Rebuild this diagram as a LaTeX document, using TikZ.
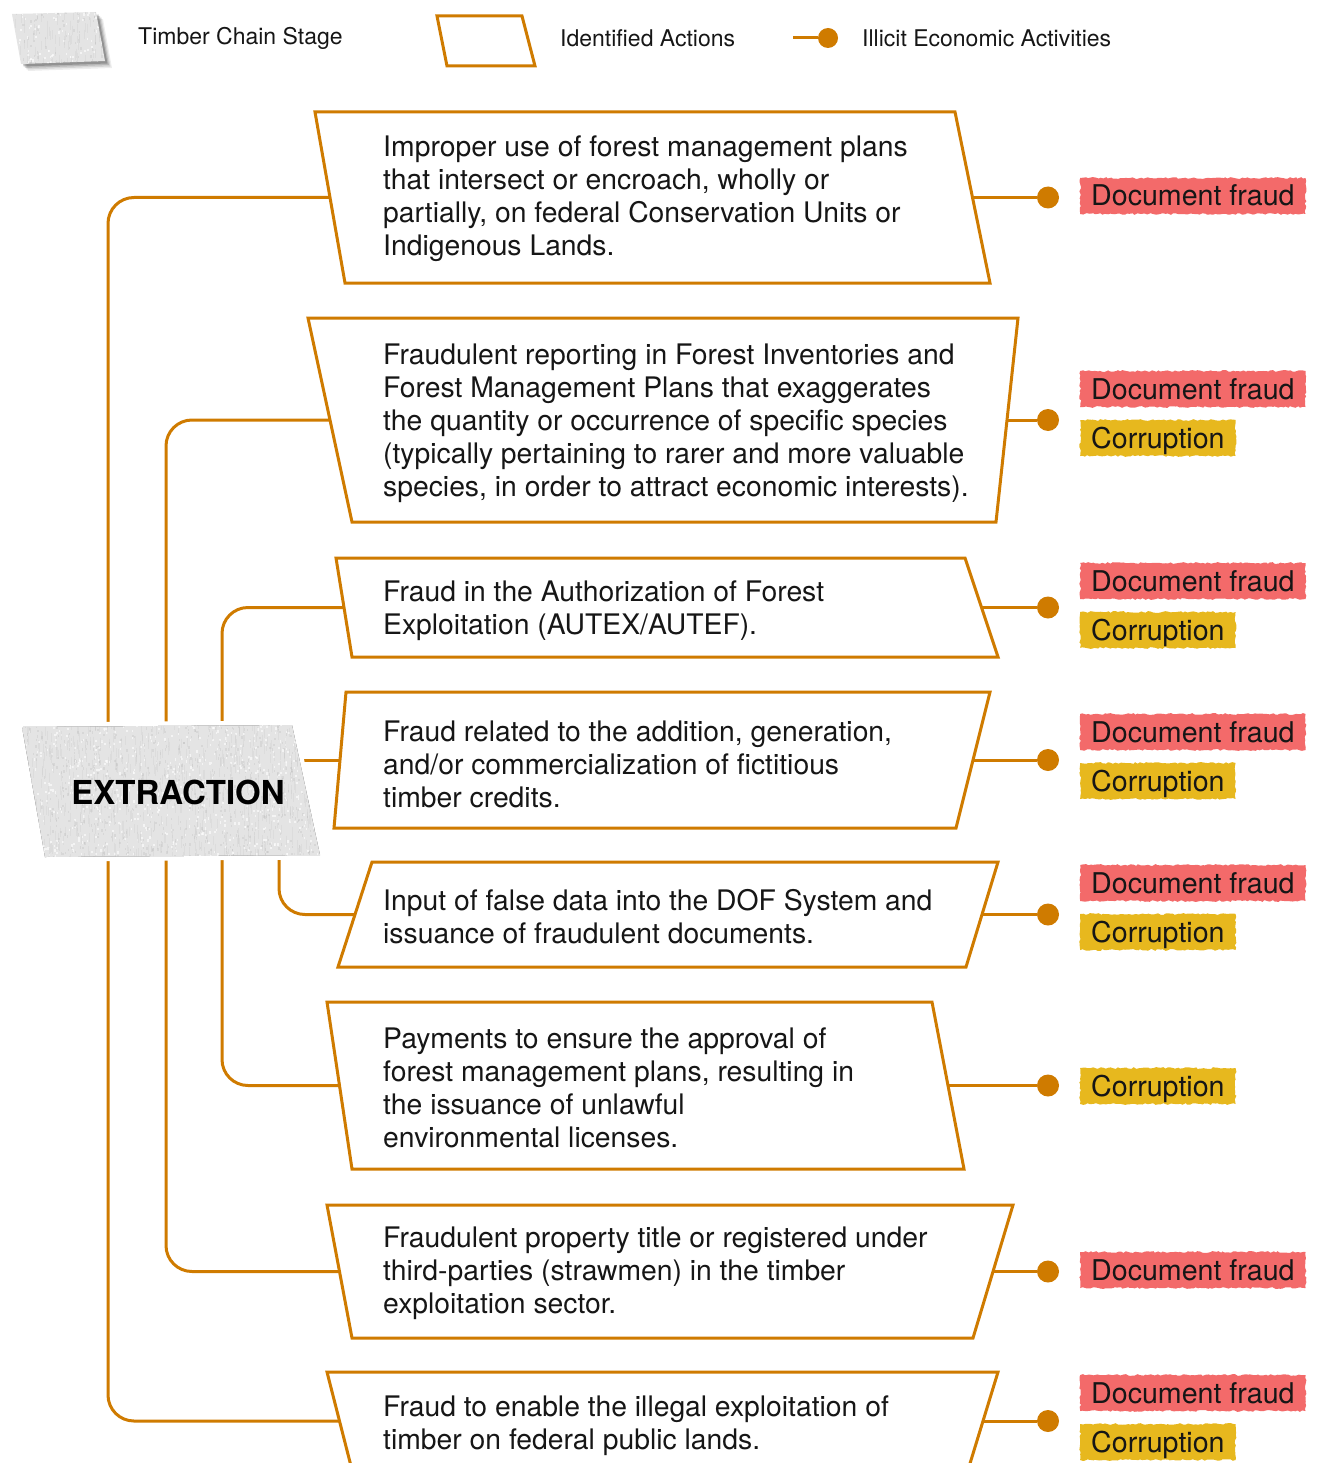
\documentclass[tikz,border=0pt]{standalone}
\usepackage{fontspec}
\setmainfont{TeX Gyre Heros}
\usetikzlibrary{calc,decorations.pathmorphing}

\definecolor{wire}{RGB}{207,123,0}
\definecolor{fraudred}{RGB}{243,106,106}
\definecolor{corrgold}{RGB}{231,184,30}
\definecolor{ink}{RGB}{22,22,22}
\definecolor{paper}{RGB}{228,228,228}

\tikzset{
  actbox/.style={draw=wire, line width=3pt, fill=white, line join=miter},
  conn/.style={draw=wire, line width=3pt},
  acttext/.style={anchor=west, align=left, inner sep=0pt, text=ink,
    font=\fontsize{28.3}{33}\selectfont},
  dotmark/.style={circle, fill=wire, minimum size=22pt, inner sep=0pt},
  tagbase/.style={anchor=west, inner xsep=11pt, inner ysep=3pt,
    text height=25pt, text depth=5pt, text=ink,
    font=\fontsize{28.6}{33}\selectfont,
    decorate, decoration={random steps, segment length=2.5pt, amplitude=0.9pt}},
  fraudtag/.style={tagbase, fill=fraudred},
  corrtag/.style={tagbase, fill=corrgold},
  legtext/.style={anchor=west, inner sep=0pt, text=ink,
    font=\fontsize{23}{27}\selectfont},
  stagetext/.style={inner sep=0pt, text=black,
    font=\fontsize{33}{37}\selectfont\bfseries},
}

% grainy paper speckle inside a clipped region: x0, y0, width, height, count
\newcommand\grainfill[5]{%
  \pgfmathsetseed{17}%
  \foreach \k in {1,...,#5}{%
    \pgfmathsetmacro\gx{#1+#3*rnd}%
    \pgfmathsetmacro\gy{#2+#4*rnd}%
    \fill[black!40, opacity=0.16] (\gx,\gy) rectangle ++(1.4,2.4);
    \pgfmathsetmacro\hx{#1+#3*rnd}%
    \pgfmathsetmacro\hy{#2+#4*rnd}%
    \fill[white, opacity=0.6] (\hx,\hy) rectangle ++(1.6,2.2);
  }%
  \foreach \k in {1,...,#5}{%
    \pgfmathsetmacro\sx{#1+#3*rnd}%
    \pgfmathsetmacro\sy{#2+#4*rnd}%
    \draw[black!30, opacity=0.14, line width=0.8pt] (\sx,\sy) -- ++(0,9);
  }%
}

% action box: name, four corners (tl, tr, br, bl), text centre y, text
\newcommand\actionbox[7]{%
  \coordinate (#1tl) at #2;
  \coordinate (#1tr) at #3;
  \coordinate (#1br) at #4;
  \coordinate (#1bl) at #5;
  \draw[actbox] (#1tl) -- (#1tr) -- (#1br) -- (#1bl) -- cycle;
  \coordinate (#1w) at ($(#1tl)!0.5!(#1bl)$);
  \coordinate (#1e) at ($(#1tr)!0.5!(#1br)$);
  \node[acttext] (#1) at (383,#6) {#7};
  \node[dotmark] (#1d) at (#1e -| dotcol) {};
  \draw[conn] (#1e) -- (#1d);
}

\begin{document}
\begin{tikzpicture}[x=1pt, y=-1pt]
\useasboundingbox (0,0) rectangle (1316,1463);

\coordinate (dotcol) at (1048,0);
\coordinate (c1) at (108,790);
\coordinate (c2) at (166,790);
\coordinate (c3) at (222,790);
\coordinate (c4) at (279,790);

% ---------- legend ----------
\foreach \o/\op in {7/0.07,5.5/0.10,4/0.14,2.5/0.20}{
  \fill[black, opacity=\op, shift={(\o,\o)}] (12,14) -- (96,12) -- (105,61) -- (21,64) -- cycle;
}
\fill[paper] (12,14) -- (96,12) -- (105,61) -- (21,64) -- cycle;
\begin{scope}
  \clip (12,14) -- (96,12) -- (105,61) -- (21,64) -- cycle;
  \grainfill{10}{8}{100}{60}{90}
\end{scope}
\node[legtext] (lgstage) at (138,38) {Timber Chain Stage};

\draw[actbox] (437,16) -- (522,16) -- (535,66) -- (447,66) -- cycle;
\node[legtext] (lgaction) at (560,38) {Identified Actions};

\node[dotmark, minimum size=20pt] (lgdot) at (828,38) {};
\coordinate (lgstart) at (793,38);
\draw[conn] (lgstart) -- (lgdot);
\node[legtext] (lgillicit) at (862,38) {Illicit Economic Activities};

% ---------- action boxes ----------
\actionbox{a1}{(315,112)}{(955,112)}{(990,283)}{(345,283)}{199}{Improper use of forest management plans\\that intersect or encroach, wholly or\\partially, on federal Conservation Units or\\Indigenous Lands.}
\actionbox{a2}{(308,318)}{(1018,318)}{(996,522)}{(352,522)}{423}{Fraudulent reporting in Forest Inventories and\\Forest Management Plans that exaggerates\\the quantity or occurrence of specific species\\(typically pertaining to rarer and more valuable\\species, in order to attract economic interests).}
\actionbox{a3}{(336,558)}{(965,558)}{(998,657)}{(352,657)}{611}{Fraud in the Authorization of Forest\\Exploitation (AUTEX/AUTEF).}
\actionbox{a4}{(346,692)}{(990,692)}{(956,828)}{(334,828)}{764}{Fraud related to the addition, generation,\\and/or commercialization of fictitious\\timber credits.}
\actionbox{a5}{(372,862)}{(998,862)}{(966,967)}{(338,967)}{917}{Input of false data into the DOF System and\\issuance of fraudulent documents.}
\actionbox{a6}{(327,1002)}{(932,1002)}{(964,1169)}{(352,1169)}{1088}{Payments to ensure the approval of\\forest management plans, resulting in\\the issuance of unlawful\\environmental licenses.}
\actionbox{a7}{(327,1205)}{(1013,1205)}{(973,1338)}{(352,1338)}{1273}{Fraudulent property title or registered under\\third-parties (strawmen) in the timber\\exploitation sector.}
\actionbox{a8}{(327,1372)}{(998,1372)}{(968,1470)}{(352,1470)}{1426}{Fraud to enable the illegal exploitation of\\timber on federal public lands.}

% ---------- branches from the stage ----------
\draw[conn, rounded corners=26pt] (a1w) -| (c1) |- (a8w);
\draw[conn, rounded corners=26pt] (a2w) -| (c2) |- (a7w);
\draw[conn, rounded corners=26pt] (a3w) -| (c3) |- (a6w);
\draw[conn, rounded corners=26pt] (c4) |- (a5w);
\draw[conn] (c4 |- a4w) -- (a4w);

% ---------- stage box ----------
\coordinate (s1) at (22,727);
\coordinate (s2) at (292,725);
\coordinate (s3) at (320,855);
\coordinate (s4) at (45,857);
\draw[white, line width=9pt, line join=round, fill=white] (s1) -- (s2) -- (s3) -- (s4) -- cycle;
\foreach \o/\op in {8/0.07,6.5/0.10,5/0.15,3.5/0.22,2/0.26}{
  \fill[black, opacity=\op, shift={(\o,\o)}] (s1) -- (s2) -- (s3) -- (s4) -- cycle;
}
\fill[paper] (s1) -- (s2) -- (s3) -- (s4) -- cycle;
\begin{scope}
  \clip (s1) -- (s2) -- (s3) -- (s4) -- cycle;
  \grainfill{20}{720}{304}{140}{700}
\end{scope}
\node[stagetext] (ext) at (178,792) {EXTRACTION};

% ---------- illicit activity tags ----------
\node[fraudtag] (t1f) at (1080,196) {Document fraud};
\node[fraudtag] (t2f) at (1080,389) {Document fraud};
\node[corrtag]  (t2c) at (1080,438) {Corruption};
\node[fraudtag] (t3f) at (1080,581) {Document fraud};
\node[corrtag]  (t3c) at (1080,630) {Corruption};
\node[fraudtag] (t4f) at (1080,732) {Document fraud};
\node[corrtag]  (t4c) at (1080,781) {Corruption};
\node[fraudtag] (t5f) at (1080,883) {Document fraud};
\node[corrtag]  (t5c) at (1080,932) {Corruption};
\node[corrtag]  (t6c) at (1080,1086) {Corruption};
\node[fraudtag] (t7f) at (1080,1270) {Document fraud};
\node[fraudtag] (t8f) at (1080,1393) {Document fraud};
\node[corrtag]  (t8c) at (1080,1442) {Corruption};
\end{tikzpicture}
\end{document}
